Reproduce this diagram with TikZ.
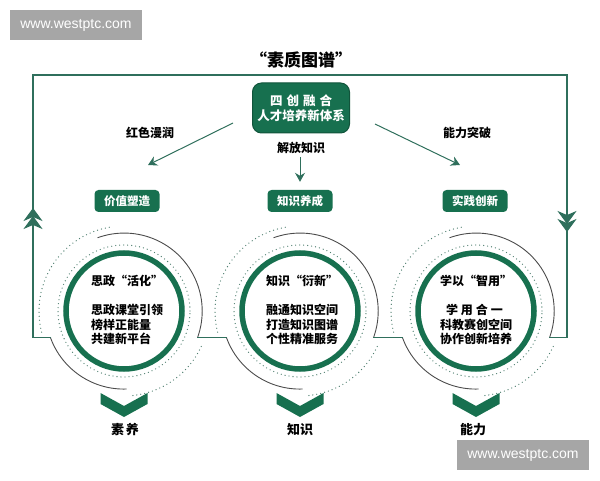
\documentclass[tikz,border=0pt]{standalone}
\usepackage{fontspec}
\setmainfont{Noto Sans CJK SC}
\newfontfamily\wmfont{Liberation Sans}
\usetikzlibrary{arrows.meta}
\definecolor{sgreen}{HTML}{17704F}
\definecolor{fgreen}{HTML}{2F6F5C}
\definecolor{dgreen}{HTML}{4F7F6F}

\begin{document}
\begin{tikzpicture}
		[x=1pt,y=1pt,
		 topbox/.style= {fill=sgreen,draw=sgreen!75!black,line width=1pt,text=white,rounded corners=9pt,
		                 minimum width=97pt,minimum height=50pt,inner sep=0pt,align=center,
		                 font=\bfseries\fontsize{12.5}{15}\selectfont},
		 box/.style= {fill=sgreen,text=white,rounded corners=4pt,minimum width=65pt,minimum height=22pt,
		              inner sep=0pt,font=\bfseries\fontsize{11.5}{12}\selectfont},
		 lbl/.style= {font=\bfseries\fontsize{12}{14}\selectfont},
		 botlbl/.style= {font=\bfseries\fontsize{13}{14}\selectfont},
		 ringtxt/.style= {align=left,inner sep=0pt,font=\bfseries\fontsize{12}{14.5}\selectfont},
		 outer/.style= {circle,minimum size=156pt,inner sep=0pt},
		 frame/.style= {draw=fgreen,line width=1.3pt},
		 arr/.style= {draw=fgreen,line width=1pt,-{Stealth[length=9pt,width=10pt,inset=3pt]}},
		 dblarr/.style= {draw=fgreen,fill=fgreen,line width=1.3pt,
		                 -{Stealth[length=13pt,width=19pt,inset=4pt,sep=-5pt] Stealth[length=13pt,width=19pt,inset=4pt]}},
		 thickring/.style= {draw=sgreen,line width=5.5pt},
		 dotring/.style= {draw=dgreen,line width=1.3pt,line cap=round,dash pattern=on 0pt off 4pt},
		 thinarc/.style= {draw=black!70,line width=0.9pt},
		 wm/.style= {fill=black!35,text=white,minimum width=132pt,minimum height=30pt,inner sep=0pt,
		             font=\wmfont\fontsize{14}{14}\selectfont}]

		\useasboundingbox (0,0) rectangle (600,480);

		% watermarks
		\node[wm] (wm1) at (76,455) {www.westptc.com};
		\node[wm] (wm2) at (523,25) {www.westptc.com};

		% title and top of the tree
		\node[font=\bfseries\fontsize{17}{20}\selectfont] (title) at (301,420) {“素质图谱”};

		\node[topbox] (tb) at (301,372) {四\hspace{4pt}创\hspace{4pt}融\hspace{4pt}合\\人才培养新体系};

		\node[lbl] (hs) at (150,347) {红色漫润};
		\node[lbl] (jf) at (301,332) {解放知识};
		\node[lbl] (nl) at (467,347) {能力突破};

		\node[box] (jz) at (127,279) {价值塑造};
		\node[box] (zs) at (300,279) {知识养成};
		\node[box] (sj) at (475,279) {实践创新};

		\coordinate (a1s) at (233,357);
		\coordinate (a1e) at (148,315);
		\coordinate (a2s) at (375,356);
		\coordinate (a2e) at (460,315);

		\draw[arr] (a1s) -- (a1e);
		\draw[arr,shorten >=8pt] (zs.north |- jf.south) -- (zs.north);
		\draw[arr] (a2s) -- (a2e);

		% rings
		\coordinate (c1) at (124,169);
		\coordinate (c2) at (300,169);
		\coordinate (c3) at (476,169);

		\node[outer] (o1) at (c1) {};
		\node[outer] (o2) at (c2) {};
		\node[outer] (o3) at (c3) {};

		\draw[thickring] (c1) circle[radius=58];
		\draw[dotring] (c1) circle[radius=66];
		\draw[thinarc] (o1.340) arc[start angle=-20,end angle=110,radius=78];
		\draw[thinarc] (o1.200) arc[start angle=200,end angle=272,radius=78];
		\draw[dotring] (c1) ++(100:85) arc[start angle=100,end angle=196,radius=85];
		\draw[dotring] (c1) ++(276:85) arc[start angle=276,end angle=338,radius=85];

		\draw[thickring] (c2) circle[radius=58];
		\draw[dotring] (c2) circle[radius=66];
		\draw[thinarc] (o2.340) arc[start angle=-20,end angle=110,radius=78];
		\draw[thinarc] (o2.200) arc[start angle=200,end angle=272,radius=78];
		\draw[dotring] (c2) ++(100:85) arc[start angle=100,end angle=196,radius=85];
		\draw[dotring] (c2) ++(276:85) arc[start angle=276,end angle=338,radius=85];

		\draw[thickring] (c3) circle[radius=58];
		\draw[dotring] (c3) circle[radius=66];
		\draw[thinarc] (o3.340) arc[start angle=-20,end angle=110,radius=78];
		\draw[thinarc] (o3.200) arc[start angle=200,end angle=272,radius=78];
		\draw[dotring] (c3) ++(100:85) arc[start angle=100,end angle=196,radius=85];
		\draw[dotring] (c3) ++(276:85) arc[start angle=276,end angle=338,radius=85];

		\node[ringtxt] (t1) at (127,170) {思政“活化”\\[15pt]思政课堂引领\\榜样正能量\\共建新平台};
		\node[ringtxt] (t2) at (302,170) {知识“衍新”\\[15pt]融通知识空间\\打造知识图谱\\个性精准服务};
		\node[ringtxt] (t3) at (476,170) {学以“智用”\\[15pt]\hspace{6pt}学\hspace{3pt}用\hspace{3pt}合\hspace{3pt}一\\科教赛创空间\\协作创新培养};

		% frame round the three rings
		\coordinate (ltop) at (33,405);
		\coordinate (rtop) at (567,405);
		\coordinate (la1) at (33,235);
		\coordinate (la2) at (33,272);
		\coordinate (ra1) at (567,276);
		\coordinate (ra2) at (567,248);

		\draw[frame] (o1.200) -| (ltop) -- (rtop) |- (o3.340);
		\draw[frame] (o1.340) -- (o2.200);
		\draw[frame] (o2.340) -- (o3.200);
		\draw[dblarr] (la1) -- (la2);
		\draw[dblarr] (ra1) -- (ra2);

		% chevrons and results
		\fill[sgreen] (c1) ++(-23.5,-82) -- ++(23.5,-13) -- ++(23.5,13) -- ++(0,-11) -- ++(-23.5,-13) -- ++(-23.5,13) -- cycle;
		\fill[sgreen] (c2) ++(-23.5,-82) -- ++(23.5,-13) -- ++(23.5,13) -- ++(0,-11) -- ++(-23.5,-13) -- ++(-23.5,13) -- cycle;
		\fill[sgreen] (c3) ++(-23.5,-82) -- ++(23.5,-13) -- ++(23.5,13) -- ++(0,-11) -- ++(-23.5,-13) -- ++(-23.5,13) -- cycle;

		\node[botlbl] (r1) at (125,50) {素\hspace{2pt}养};
		\node[botlbl] (r2) at (300,50) {知识};
		\node[botlbl] (r3) at (473,50) {能力};

	\end{tikzpicture}
\end{document}
